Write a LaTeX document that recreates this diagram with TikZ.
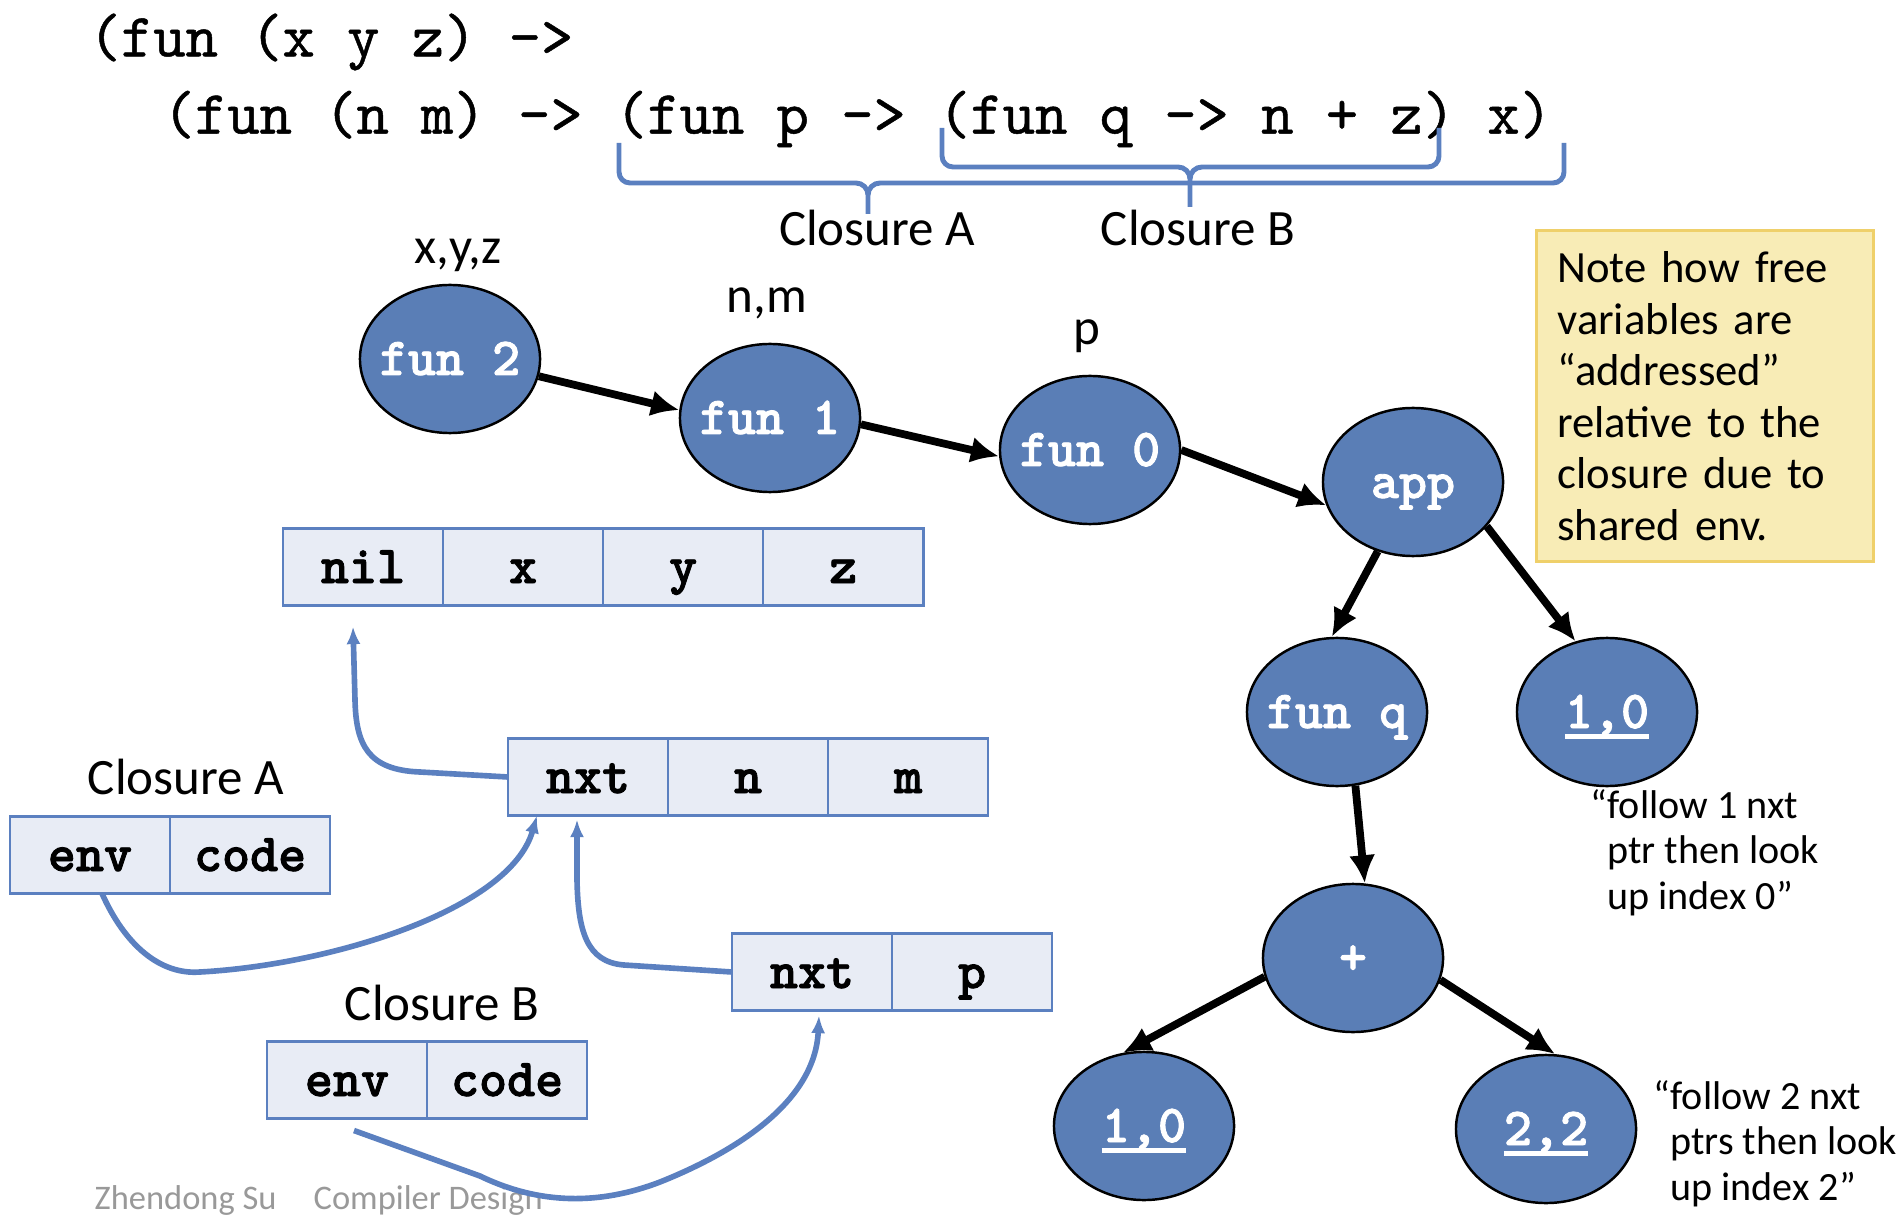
\documentclass[tikz,border=0pt]{standalone}
\usepackage{fontspec}
\setmainfont{Carlito}
\newfontfamily\monob{lmmonolt10-bold.otf}[FakeBold=1.6]
\newfontfamily\monor{lmmono10-regular.otf}[FakeBold=0.8]
\usetikzlibrary{positioning,shapes.geometric,arrows.meta}

\definecolor{nodeblue}{HTML}{5A7EB6}
\definecolor{cellfill}{HTML}{E8ECF5}
\definecolor{cellline}{HTML}{5B80C0}
\definecolor{notefill}{HTML}{F8ECB6}
\definecolor{noteline}{HTML}{EFD06A}
\definecolor{footgray}{HTML}{999999}

% подчёркнутый индекс
\newcommand\ulx[1]{\setbox0\hbox{#1}\rlap{\rule[-3pt]{\wd0}{1.4pt}}\box0}

\begin{document}
\begin{tikzpicture}[
        x=0.01cm, y=-0.01cm, % координаты в пикселях, ось y вниз
        fn/.style={ellipse, draw, line width=0.7pt, fill=nodeblue, minimum width=1.8cm, minimum height=1.48cm, inner xsep=-0.1cm, inner ysep=0pt, text height=9.1pt, text depth=0pt, text=white, font=\monob\fontsize{15.2}{18}\selectfont}, % узлы дерева
        cell/.style={draw=cellline, line width=0.7pt, fill=cellfill, minimum width=1.6cm, minimum height=0.77cm, inner sep=0pt, outer sep=0pt, text height=9.1pt, text depth=0pt, font=\monob\fontsize{15.2}{18}\selectfont}, % ячейки окружений
        kid/.style={line width=2.2pt, -{Latex[length=8pt,width=7.5pt]}}, % стрелки дерева
        ptr/.style={draw=cellline, line width=1.6pt, -{Latex[length=5pt,width=4pt]}}, % указатели
        brk/.style={draw=cellline, line width=1.4pt},
        src/.style={anchor=west, inner sep=0pt, font=\monor\fontsize{17.5}{20}\selectfont},
        lbl/.style={inner sep=0pt, font=\fontsize{14.5}{17}\selectfont},
        hint/.style={anchor=north west, align=left, inner sep=0pt, font=\fontsize{11.4}{12.9}\selectfont},
    ]
    \useasboundingbox (0,0) rectangle (1904,1222);

    % исходный код и скобки
    \node[src] (line1) at (88,42) {(fun (x y z) ->};
    \node[src] (line2) at (162,119) {(fun (n m) -> (fun p -> (fun q -> n + z) x)};

    \draw[brk] (619,143) -- (619,172) to[out=-90,in=180] (630,183) -- (856,183) to[out=0,in=90] (868,195) -- (868,214);
    \draw[brk] (868,195) to[out=90,in=180] (880,183) -- (1553,183) to[out=0,in=-90] (1564,172) -- (1564,143);
    \draw[brk] (942,128) -- (942,156) to[out=-90,in=180] (953,167) -- (1178,167) to[out=0,in=90] (1190,179) -- (1190,207);
    \draw[brk] (1190,179) to[out=90,in=180] (1202,167) -- (1428,167) to[out=0,in=-90] (1439,156) -- (1439,128);

    \node[lbl] (clA) at (877,228) {Closure A};
    \node[lbl] (clB) at (1198,228) {Closure B};

    % дерево
    \node[fn] (fun2) at (450,359) {fun 2};
    \node[fn] (fun1) at (770,418) {fun 1};
    \node[fn] (fun0) at (1090,450) {fun 0};
    \node[fn] (app) at (1413,482) {app};
    \node[fn] (funq) at (1337,712) {fun q};
    \node[fn] (idxA) at (1607,712) {\ulx{1,0}};
    \node[fn] (plus) at (1353,958) {+};
    \node[fn] (idxB) at (1144,1126) {\ulx{1,0}};
    \node[fn] (idxC) at (1546,1129) {\ulx{2,2}};

    \node[lbl] (vxyz) at (458,255) {x,y,z};
    \node[lbl] (vnm) at (767,303) {n,m};
    \node[lbl] (vp) at (1087,336) {p};

    \draw[kid] (fun2.349) -- (fun1.175);
    \draw[kid] (fun1.356) -- (fun0.184);
    \draw[kid] (fun0.0) -- (app.195);
    \draw[kid] (app.243) -- (funq.94);
    \draw[kid] (app.329) -- (idxA.114);
    \draw[kid] (funq.284) -- (plus.81);
    \draw[kid] (plus.192) -- (idxB.106);
    \draw[kid] (plus.346) -- (idxC.83);

    \node[draw=noteline, line width=0.8pt, fill=notefill, minimum width=3.37cm, minimum height=3.3cm, text width=2.95cm, inner xsep=0.21cm, align=left, font=\fontsize{12.7}{14.65}\selectfont] (note) at (1705,396) {Note how free\\variables are\\“addressed”\\relative to the\\closure due to\\shared env.};

    \node[hint] (hintA) at (1590,789) {“follow 1 nxt\\\hphantom{“}ptr then look\\\hphantom{“}up index 0”};
    \node[hint] (hintB) at (1653,1080) {“follow 2 nxt\\\hphantom{“}ptrs then look\\\hphantom{“}up index 2”};

    % окружения
    \node[cell] (nilc) at (363,567) {nil};
    \node[cell, right=0pt of nilc] (xc) {x};
    \node[cell, right=0pt of xc] (yc) {y};
    \node[cell, right=0pt of yc] (zc) {z};

    \node[cell] (nxt1) at (588,777) {nxt};
    \node[cell, right=0pt of nxt1] (nc) {n};
    \node[cell, right=0pt of nc] (mc) {m};

    \node[cell] (nxt0) at (812,972) {nxt};
    \node[cell, right=0pt of nxt0] (pc) {p};

    \node[lbl] (cloA) at (186,777) {Closure A};
    \node[cell] (envA) at (90,855) {env};
    \node[cell, right=0pt of envA] (codeA) {code};

    \node[lbl] (cloB) at (442,1003) {Closure B};
    \node[cell] (envB) at (347,1080) {env};
    \node[cell, right=0pt of envB] (codeB) {code};

    \node[anchor=west, inner sep=0pt, text=footgray, font=\fontsize{9.8}{12}\selectfont] (auth) at (94,1200) {Zhendong Su};
    \node[anchor=west, inner sep=0pt, text=footgray, font=\fontsize{9.8}{12}\selectfont] (course) at (313,1200) {Compiler Design};

    % указатели
    \draw[ptr] (nxt1.west) -- (420,772) .. controls (368,770) and (356,745) .. (355,700) -- ([shift={(-0.1cm,-0.21cm)}]nilc.south);
    \draw[ptr] ([xshift=0.12cm]envA.south) .. controls (125,945) and (160,975) .. (200,972) .. controls (330,965) and (510,910) .. ([xshift=-0.51cm]nxt1.south);
    \draw[ptr] (nxt0.west) -- (624,965) .. controls (586,962) and (578,930) .. (577,880) -- ([shift={(-0.11cm,-0.04cm)}]nxt1.south);
    \draw[ptr] ([shift={(0.07cm,-0.12cm)}]envB.south) -- (480,1176) .. controls (540,1205) and (600,1205) .. (660,1182) .. controls (740,1150) and (815,1100) .. ([shift={(0.07cm,-0.05cm)}]nxt0.south);

\end{tikzpicture}
\end{document}
